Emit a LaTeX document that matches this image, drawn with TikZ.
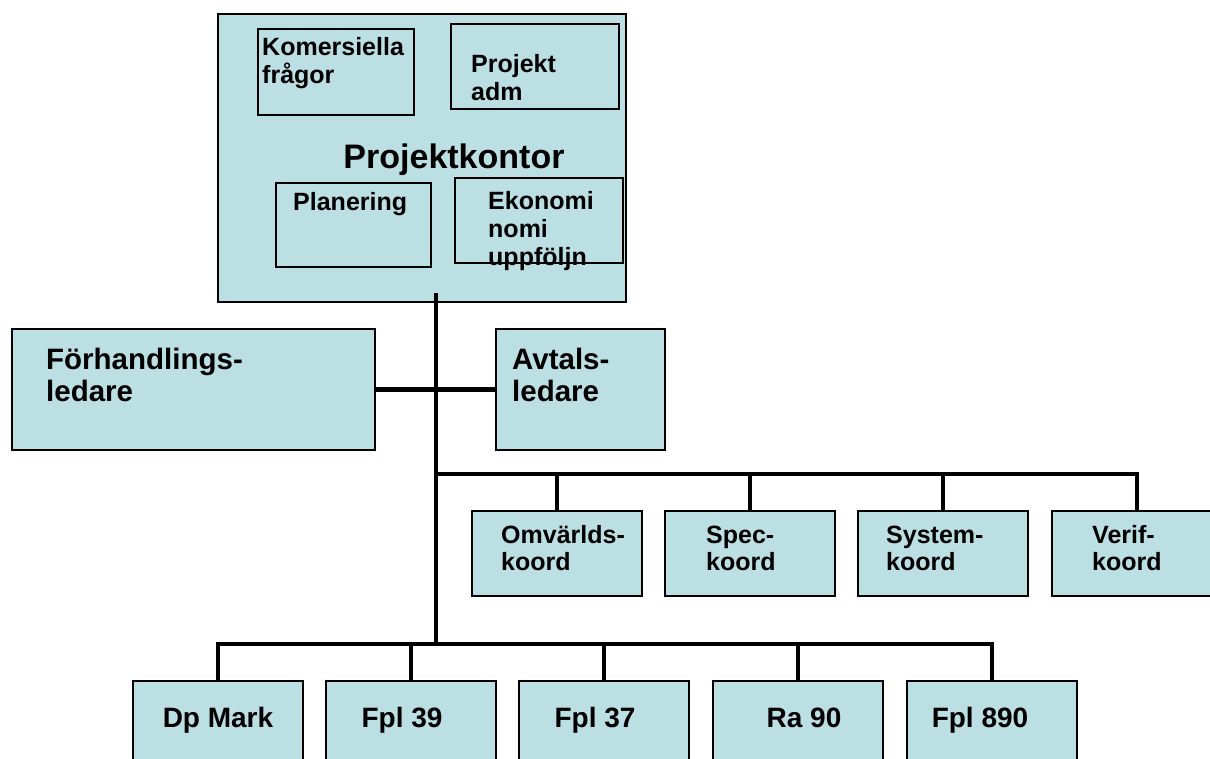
\documentclass[tikz,border=0pt]{standalone}
\usepackage{fontspec}
\setmainfont{Liberation Sans}
\definecolor{boxblue}{RGB}{187,223,226}
\begin{document}
\begin{tikzpicture}[x=1pt,y=-1pt,
  box/.style={draw=black, line width=1.2pt, fill=boxblue, inner sep=0pt, outer sep=0pt, anchor=north west},
  inbox/.style={draw=black, line width=1.2pt, inner sep=0pt, outer sep=0pt, anchor=north west},
  conn/.style={draw=black, line width=4.6pt, line join=miter},
  stxt/.style={font=\bfseries\fontsize{25}{28}\selectfont, anchor=base west, align=left, inner sep=0pt},
  btxt/.style={font=\bfseries\fontsize{34}{38}\selectfont, anchor=base, inner sep=0pt},
  mtxt/.style={font=\bfseries\fontsize{29.5}{32}\selectfont, anchor=base west, align=left, inner sep=0pt},
  ctxt/.style={font=\bfseries\fontsize{25}{27}\selectfont, anchor=base west, align=left, inner sep=0pt},
  ltxt/.style={font=\bfseries\fontsize{28}{32}\selectfont, anchor=base, inner sep=0pt}
]
\useasboundingbox (0,0) rectangle (1210,758);
\clip (0,0) rectangle (1210,758);

% Projektkontor (base anchor of a multi-line text = last line's baseline)
\node[box, minimum width=408pt, minimum height=288pt] (pk) at (218,14) {};
\node[stxt] (tkom) at (262,83) {Komersiella\\frågor};
\node[stxt] (tpadm) at (471,100) {Projekt\\adm};
\node[btxt] (tpk) at (454,168) {Projektkontor};
\node[stxt] (tplan) at (293,210) {Planering};
\node[stxt] (teko) at (488,265) {Ekonomi\\nomi\\uppföljn};
\node[inbox, minimum width=156pt, minimum height=86pt] (kom) at (258,29) {};
\node[inbox, minimum width=168pt, minimum height=85pt] (padm) at (451,24) {};
\node[inbox, minimum width=155pt, minimum height=84pt] (plan) at (276,183) {};
\node[inbox, minimum width=168pt, minimum height=85pt] (eko) at (455,178) {};

% leaders
\node[box, minimum width=363pt, minimum height=121pt] (forh) at (12,329) {};
\node[box, minimum width=169pt, minimum height=121pt] (avt) at (496,329) {};
\node[mtxt] (tforh) at (46,401) {Förhandlings-\\ledare};
\node[mtxt] (tavt) at (512,401) {Avtals-\\ledare};

% coordinators
\node[box, minimum width=170pt, minimum height=85pt] (omv) at (472,511) {};
\node[box, minimum width=170pt, minimum height=85pt] (spec) at (665,511) {};
\node[box, minimum width=170pt, minimum height=85pt] (sys) at (858,511) {};
\node[box, minimum width=170pt, minimum height=85pt] (verif) at (1052,511) {};
\node[ctxt] (tomv) at (501,570) {Omvärlds-\\koord};
\node[ctxt] (tspec) at (706,570) {Spec-\\koord};
\node[ctxt] (tsys) at (886,570) {System-\\koord};
\node[ctxt] (tverif) at (1092,570) {Verif-\\koord};

% lower units
\node[box, minimum width=170pt, minimum height=95pt] (dp) at (133,681) {};
\node[box, minimum width=170pt, minimum height=95pt] (f39) at (326,681) {};
\node[box, minimum width=170pt, minimum height=95pt] (f37) at (519,681) {};
\node[box, minimum width=170pt, minimum height=95pt] (ra) at (713,681) {};
\node[box, minimum width=170pt, minimum height=95pt] (f890) at (907,681) {};
\node[ltxt] (tdp) at (218,727) {Dp Mark};
\node[ltxt] (tf39) at (402,727) {Fpl 39};
\node[ltxt] (tf37) at (595,727) {Fpl 37};
\node[ltxt] (tra) at (804,727) {Ra 90};
\node[ltxt] (tf890) at (980,727) {Fpl 890};

% connectors
\coordinate (t0) at (436,293);
\coordinate (j1) at (436,474);
\coordinate (j2) at (436,644);
\draw[conn] (t0) -- (j2);
\draw[conn] (forh) -- (avt);
\draw[conn] (j1) -- (verif.north |- j1) -- (verif.north);
\draw[conn] (omv.north |- j1) -- (omv.north);
\draw[conn] (spec.north |- j1) -- (spec.north);
\draw[conn] (sys.north |- j1) -- (sys.north);
\draw[conn] (dp.north) -- (dp.north |- j2) -- (f890.north |- j2) -- (f890.north);
\draw[conn] (f39.north |- j2) -- (f39.north);
\draw[conn] (f37.north |- j2) -- (f37.north);
\draw[conn] (ra.north |- j2) -- (ra.north);
\end{tikzpicture}
\end{document}
